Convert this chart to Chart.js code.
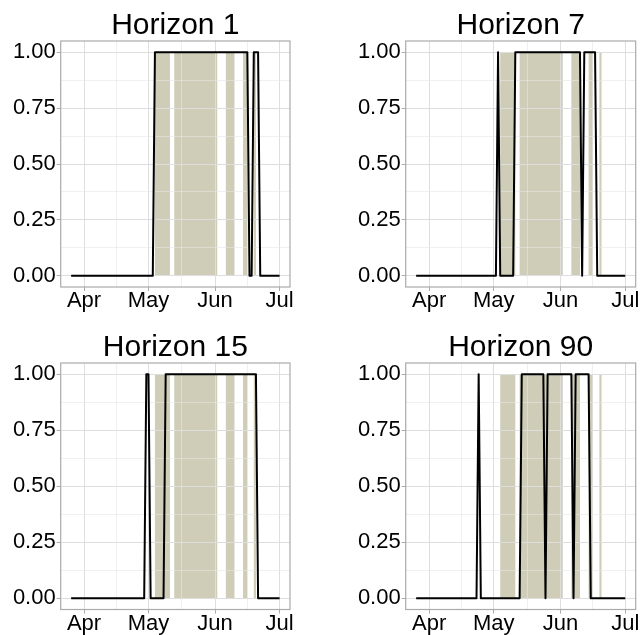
<!DOCTYPE html>
<html>
<head>
<meta charset="utf-8">
<script src="https://cdn.jsdelivr.net/npm/chart.js@4.4.1/dist/chart.umd.min.js"></script>
<style>
  html, body { margin: 0; padding: 0; background: #ffffff; }
  body { width: 641px; height: 635px; position: relative; overflow: hidden; }
</style>
</head>
<body>
<script>
// Day offsets relative to 1 April (Mar 26 .. Jul 1), one row per week
const dayOffsets = [
  -6, -5, -4, -3, -2, -1,  0,
   1,  2,  3,  4,  5,  6,  7,
   8,  9, 10, 11, 12, 13, 14,
  15, 16, 17, 18, 19, 20, 21,
  22, 23, 24, 25, 26, 27, 28,
  29, 30, 31, 32, 33, 34, 35,
  36, 37, 38, 39, 40, 41, 42,
  43, 44, 45, 46, 47, 48, 49,
  50, 51, 52, 53, 54, 55, 56,
  57, 58, 59, 60, 61, 62, 63,
  64, 65, 66, 67, 68, 69, 70,
  71, 72, 73, 74, 75, 76, 77,
  78, 79, 80, 81, 82, 83, 84,
  85, 86, 87, 88, 89, 90, 91
];

// Predicted regime indicator per horizon (same weekly rows as dayOffsets)
const horizon1 = [
  0,0,0,0,0,0,0,  0,0,0,0,0,0,0,  0,0,0,0,0,0,0,  0,0,0,0,0,0,0,
  0,0,0,0,0,0,0,  0,0,0,0,1,1,1,  1,1,1,1,1,1,1,  1,1,1,1,1,1,1,
  1,1,1,1,1,1,1,  1,1,1,1,1,1,1,  1,1,1,1,1,1,1,  1,1,1,1,1,1,0,
  0,1,1,1,0,0,0,  0,0,0,0,0,0,0
];
const horizon7 = [
  0,0,0,0,0,0,0,  0,0,0,0,0,0,0,  0,0,0,0,0,0,0,  0,0,0,0,0,0,0,
  0,0,0,0,0,0,0,  0,0,0,1,0,0,0,  0,0,0,0,1,1,1,  1,1,1,1,1,1,1,
  1,1,1,1,1,1,1,  1,1,1,1,1,1,1,  1,1,1,1,1,1,1,  0,1,1,1,1,1,1,
  0,0,0,0,0,0,0,  0,0,0,0,0,0,0
];
const horizon15 = [
  0,0,0,0,0,0,0,  0,0,0,0,0,0,0,  0,0,0,0,0,0,0,  0,0,0,0,0,0,0,
  0,0,0,0,0,0,0,  1,1,0,0,0,0,0,  0,0,1,1,1,1,1,  1,1,1,1,1,1,1,
  1,1,1,1,1,1,1,  1,1,1,1,1,1,1,  1,1,1,1,1,1,1,  1,1,1,1,1,1,1,
  1,1,1,0,0,0,0,  0,0,0,0,0,0,0
];
const horizon90 = [
  0,0,0,0,0,0,0,  0,0,0,0,0,0,0,  0,0,0,0,0,0,0,  0,0,0,0,0,0,0,
  0,1,0,0,0,0,0,  0,0,0,0,0,0,0,  0,0,0,0,0,0,0,  1,1,1,1,1,1,1,
  1,1,1,1,0,1,1,  1,1,1,1,1,1,1,  1,1,1,0,1,1,1,  1,1,1,1,0,0,0,
  0,0,0,0,0,0,0,  0,0,0,0,0,0,0
];

// Observed regime periods (start / end day offsets), shaded in every panel
const regimeStart = [33, 42, 66, 74, 79];
const regimeEnd   = [40, 62, 70, 76, 80];

const panelTitles = ['Horizon 1', 'Horizon 7', 'Horizon 15', 'Horizon 90'];
const horizonSeries = [horizon1, horizon7, horizon15, horizon90];

// Axis breaks
const monthTicks  = [0, 30, 61, 91];
const monthLabels = ['Apr', 'May', 'Jun', 'Jul'];
const monthMinorTicks = [15, 45.5, 76];
const yMajorTicks  = [0, 0.25, 0.5, 0.75, 1];
const yMajorLabels = ['0.00', '0.25', '0.50', '0.75', '1.00'];
const yMinorTicks  = [0.125, 0.375, 0.625, 0.875];

// ---- styling ----
const fontFamily = "'Liberation Sans', Arial, Helvetica, sans-serif";
const shadeColor = '#CFCDB7';
const gridMajor = '#DEDEDE';
const gridMinor = '#E6E6E6';
const frameColor = '#ABABAB';

// ggplot-like 5% expansion on both axes
const xFirst = dayOffsets[0], xLast = dayOffsets[dayOffsets.length - 1];
const xPad = (xLast - xFirst) * 0.05;
const yPad = 0.05;

const panelLayout = [
  { left: 0,   top: 0,   width: 320, height: 317, padLeft: 0,  padRight: 30,  xAxisH: 30 },
  { left: 320, top: 0,   width: 321, height: 317, padLeft: 25, padRight: 5.3, xAxisH: 30 },
  { left: 0,   top: 322, width: 320, height: 313, padLeft: 0,  padRight: 30,  xAxisH: 25.5 },
  { left: 320, top: 322, width: 321, height: 313, padLeft: 25, padRight: 5.3, xAxisH: 25.5 }
];
const yAxisWidth = 60.7;

const regimeShading = {
  id: 'regimeShading',
  beforeDraw(chart) {
    const xs = chart.scales.x, ys = chart.scales.y, ctx = chart.ctx;
    const yTop = ys.getPixelForValue(1), yBot = ys.getPixelForValue(0);
    ctx.save();
    ctx.fillStyle = shadeColor;
    regimeStart.forEach((s, i) => {
      const x0 = xs.getPixelForValue(s), x1 = xs.getPixelForValue(regimeEnd[i]);
      ctx.fillRect(x0, yTop, x1 - x0, yBot - yTop);
    });
    ctx.restore();
  }
};

const panelFrame = {
  id: 'panelFrame',
  afterDraw(chart) {
    const { left, top, right, bottom } = chart.chartArea;
    const ctx = chart.ctx;
    ctx.save();
    ctx.strokeStyle = frameColor;
    ctx.lineWidth = 1.2;
    ctx.strokeRect(left, top, right - left, bottom - top);
    ctx.restore();
  }
};

const tickValue = c => (c && c.tick ? c.tick.value : NaN);
const isMajorX = c => monthTicks.includes(tickValue(c));
const isMajorY = c => yMajorTicks.includes(tickValue(c));

function buildPanel(idx) {
  const L = panelLayout[idx];
  const canvas = document.createElement('canvas');
  canvas.width = L.width;
  canvas.height = L.height;
  canvas.style.cssText = `position:absolute;left:${L.left}px;top:${L.top}px;width:${L.width}px;height:${L.height}px`;
  document.body.appendChild(canvas);

  const values = horizonSeries[idx];
  new Chart(canvas, {
    type: 'line',
    data: {
      datasets: [{
        data: dayOffsets.map((d, i) => ({ x: d, y: values[i] })),
        borderColor: '#000000',
        borderWidth: 2,
        borderJoinStyle: 'round',
        pointRadius: 0,
        fill: false,
        tension: 0
      }]
    },
    options: {
      responsive: false,
      animation: false,
      devicePixelRatio: 1,
      events: [],
      layout: { padding: { left: L.padLeft, right: L.padRight, top: 0, bottom: 0 } },
      plugins: {
        legend: { display: false },
        tooltip: { enabled: false },
        title: {
          display: true,
          text: panelTitles[idx],
          fullSize: false,
          align: 'center',
          color: '#000000',
          font: { family: fontFamily, size: 30, weight: 'normal', lineHeight: 1.0 },
          padding: { top: 11, bottom: 0 }
        }
      },
      scales: {
        x: {
          type: 'linear',
          bounds: 'data',
          min: xFirst - xPad,
          max: xLast + xPad,
          afterBuildTicks: s => {
            s.ticks = monthTicks.concat(monthMinorTicks).sort((a, b) => a - b).map(v => ({ value: v }));
          },
          afterFit: s => { s.height = L.xAxisH; s.paddingLeft = 0; s.paddingRight = 0; },
          ticks: {
            autoSkip: false, maxRotation: 0, minRotation: 0,
            padding: -1,
            color: '#000000',
            font: { family: fontFamily, size: 22, lineHeight: 1.0 },
            callback: v => { const k = monthTicks.indexOf(v); return k >= 0 ? monthLabels[k] : ''; }
          },
          grid: {
            color: c => isMajorX(c) ? gridMajor : gridMinor,
            lineWidth: c => isMajorX(c) ? 1 : 0.6,
            drawTicks: true,
            tickLength: 4,
            tickWidth: 1,
            tickColor: c => isMajorX(c) ? frameColor : 'rgba(0,0,0,0)'
          },
          border: { display: false }
        },
        y: {
          type: 'linear',
          bounds: 'data',
          min: -yPad,
          max: 1 + yPad,
          afterBuildTicks: s => {
            s.ticks = yMajorTicks.concat(yMinorTicks).sort((a, b) => a - b).map(v => ({ value: v }));
          },
          afterFit: s => { s.width = yAxisWidth; s.paddingTop = 0; s.paddingBottom = 0; },
          ticks: {
            autoSkip: false,
            padding: 1,
            color: '#000000',
            font: { family: fontFamily, size: 22, lineHeight: 1.0 },
            callback: v => { const k = yMajorTicks.indexOf(v); return k >= 0 ? yMajorLabels[k] : ''; }
          },
          grid: {
            color: c => isMajorY(c) ? gridMajor : gridMinor,
            lineWidth: c => isMajorY(c) ? 1 : 0.6,
            drawTicks: true,
            tickLength: 4,
            tickWidth: 1,
            tickColor: c => isMajorY(c) ? frameColor : 'rgba(0,0,0,0)'
          },
          border: { display: false }
        }
      }
    },
    plugins: [regimeShading, panelFrame]
  });
}

panelTitles.forEach((_, i) => buildPanel(i));
</script>
</body>
</html>
